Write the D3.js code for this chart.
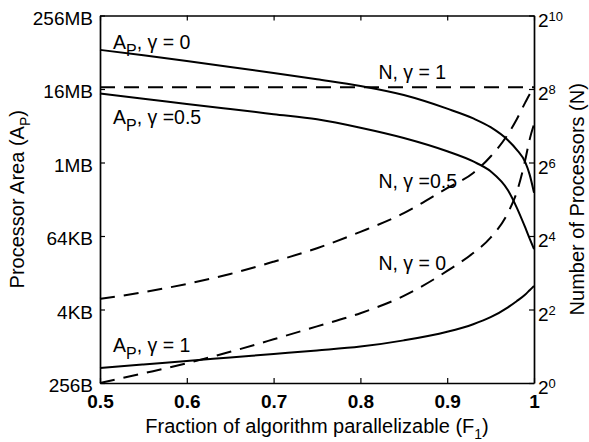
<!DOCTYPE html>
<html><head><meta charset="utf-8">
<style>
    body {
        margin: 0;
        background: #fff;
    }
    svg {
        font-family: "Liberation Sans", Arial, Helvetica, sans-serif;
    }
</style>
<script src="https://d3js.org/d3.v7.min.js"></script>
</head>
<body>
<svg id="chart"></svg>
<script>
    // fraction of the algorithm that is parallelizable (x axis)
    let fractions = [0.5, 0.55, 0.6, 0.65, 0.7, 0.75, 0.8, 0.85, 0.9, 0.93, 0.95, 0.97, 0.98, 0.99, 0.995, 1.0];

    // processor area A_P in bytes (left axis)
    let areaGamma0 = [73.4e6, 59.7e6, 48.1e6, 38.5e6, 30.7e6, 24.2e6, 18.8e6, 13.35e6, 7.99e6, 5.53e6, 3.97e6, 2.43e6, 1.71e6, 1.05e6, 664e3, 336e3];
    let areaGamma05 = [14.1e6, 11.6e6, 9.57e6, 7.88e6, 6.49e6, 5.35e6, 3.89e6, 2.64e6, 1.60e6, 1.09e6, 752e3, 368e3, 193e3, 89.5e3, 59.5e3, 40.1e3];
    let areaGamma1 = [452, 516, 588, 671, 765, 873, 1010, 1278, 1771, 2353, 3061, 4451, 5595, 7231, 8481, 9947];

    // number of processors N (right axis)
    let procGamma0 = [1, 1.20, 1.45, 1.80, 2.28, 2.91, 3.73, 5.17, 8.28, 11.6, 15.5, 24.8, 36.3, 67.6, 99.0, 131.6];
    let procGamma05 = [4.89, 5.54, 6.48, 7.82, 9.86, 12.7, 17.3, 24.6, 39.5, 52.5, 71.7, 109, 144, 199, 232, 266];
    let procGamma1 = [265, 265, 265, 265, 265, 265, 265, 265, 265, 265, 265, 265, 265, 265, 265, 265];

    // ticks
    let xTicks = [0.5, 0.6, 0.7, 0.8, 0.9, 1];
    let areaTicks = [256, 4096, 65536, 1048576, 16777216, 268435456];
    let areaTickLabels = ["256B", "4KB", "64KB", "1MB", "16MB", "256MB"];
    let procTickExps = [0, 2, 4, 6, 8, 10];

    let width = 589;
    let height = 442;
    let margin = {top: 15.5, right: 55, bottom: 59, left: 100};

    let svg = d3.select('#chart')
        .attr('width', width)
        .attr('height', height);

    let x = d3.scaleLinear()
        .domain([0.5, 1])
        .range([margin.left, width - margin.right]);

    let yArea = d3.scaleLog().base(2)
        .domain([256, 268435456])
        .range([height - margin.bottom, margin.top]);

    let yProc = d3.scaleLog().base(2)
        .domain([1, 1024])
        .range([height - margin.bottom, margin.top]);

    function drawCurve(values, scale, dashed) {
        let line = d3.line()
            .x((d, i) => x(fractions[i]))
            .y(d => scale(d))
            .curve(d3.curveMonotoneX);
        svg.append('path')
            .datum(values)
            .attr('d', line)
            .attr('fill', 'none')
            .attr('stroke', '#000')
            .attr('stroke-width', 2)
            .attr('stroke-dasharray', dashed ? '15,9' : null);
    }

    drawCurve(areaGamma0, yArea, false);
    drawCurve(areaGamma05, yArea, false);
    drawCurve(areaGamma1, yArea, false);
    drawCurve(procGamma0, yProc, true);
    drawCurve(procGamma05, yProc, true);
    drawCurve(procGamma1, yProc, true);

    function styleAxis(g) {
        g.attr('font-family', null).attr('font-size', null);
        g.select('.domain').attr('stroke-width', 1.7);
        g.selectAll('.tick line').attr('stroke-width', 1.2);
        g.selectAll('.tick text').attr('font-size', 19).attr('fill', '#000');
    }

    // left axis
    svg.append('g')
        .attr('transform', `translate(${margin.left},0)`)
        .call(d3.axisLeft(yArea)
            .tickValues(areaTicks)
            .tickFormat((d, i) => areaTickLabels[i])
            .tickSizeInner(-5).tickSizeOuter(0).tickPadding(7))
        .call(styleAxis)
        .call(g => g.selectAll('.tick text').attr('dy', '0.47em'));

    // bottom axis
    svg.append('g')
        .attr('transform', `translate(0,${height - margin.bottom})`)
        .call(d3.axisBottom(x)
            .tickValues(xTicks)
            .tickFormat(d => d === 1 ? '1' : d3.format('.1f')(d))
            .tickSizeInner(-5).tickSizeOuter(0).tickPadding(12))
        .call(styleAxis)
        .call(g => g.selectAll('.tick text').attr('font-weight', 'bold'));

    // top frame
    svg.append('g')
        .attr('transform', `translate(0,${margin.top})`)
        .call(d3.axisTop(x).tickValues(xTicks).tickFormat('')
            .tickSizeInner(-5).tickSizeOuter(0))
        .call(styleAxis);

    // right axis (powers of two)
    svg.append('g')
        .attr('transform', `translate(${width - margin.right},0)`)
        .call(d3.axisRight(yProc)
            .tickValues(procTickExps.map(e => Math.pow(2, e)))
            .tickFormat('')
            .tickSizeInner(-5).tickSizeOuter(0).tickPadding(4))
        .call(styleAxis)
        .call(g => g.selectAll('.tick text')
            .attr('dy', 10.5)
            .each(function (d, i) {
                let t = d3.select(this);
                t.append('tspan').text('2');
                t.append('tspan').attr('dy', -6).attr('font-size', 13).text(procTickExps[i]);
            }));

    // axis titles
    let xTitle = svg.append('text')
        .attr('x', (margin.left + width - margin.right) / 2)
        .attr('y', 433)
        .attr('text-anchor', 'middle')
        .attr('font-size', 20);
    xTitle.append('tspan').text('Fraction of algorithm parallelizable (F');
    xTitle.append('tspan').attr('dy', 6).attr('font-size', 14).text('1');
    xTitle.append('tspan').attr('dy', -6).text(')');

    let yTitle = svg.append('text')
        .attr('transform', `translate(24,${(margin.top + height - margin.bottom) / 2}) rotate(-90)`)
        .attr('text-anchor', 'middle')
        .attr('font-size', 20);
    yTitle.append('tspan').text('Processor Area (A');
    yTitle.append('tspan').attr('dy', 6).attr('font-size', 14).text('P');
    yTitle.append('tspan').attr('dy', -6).text(')');

    svg.append('text')
        .attr('transform', `translate(584,${(margin.top + height - margin.bottom) / 2}) rotate(-90)`)
        .attr('text-anchor', 'middle')
        .attr('font-size', 20)
        .text('Number of Processors (N)');

    // curve annotations
    function addNote(px, py, name, sub, rest) {
        let t = svg.append('text')
            .attr('x', px).attr('y', py)
            .attr('font-size', 19.5);
        t.append('tspan').text(name);
        if (sub) {
            t.append('tspan').attr('dy', 7).attr('font-size', 16).text(sub);
            t.append('tspan').attr('dy', -7).text(rest);
        } else {
            t.append('tspan').text(rest);
        }
    }

    addNote(x(0.5) + 13, 49, 'A', 'P', ', \u03b3 = 0');
    addNote(x(0.5) + 13, 124, 'A', 'P', ', \u03b3 =0.5');
    addNote(x(0.5) + 13, 352, 'A', 'P', ', \u03b3 = 1');
    addNote(x(0.8) + 18, 79, 'N', null, ', \u03b3 = 1');
    addNote(x(0.8) + 18, 188, 'N', null, ', \u03b3 =0.5');
    addNote(x(0.8) + 18, 270, 'N', null, ', \u03b3 = 0');
</script>
</body>
</html>
